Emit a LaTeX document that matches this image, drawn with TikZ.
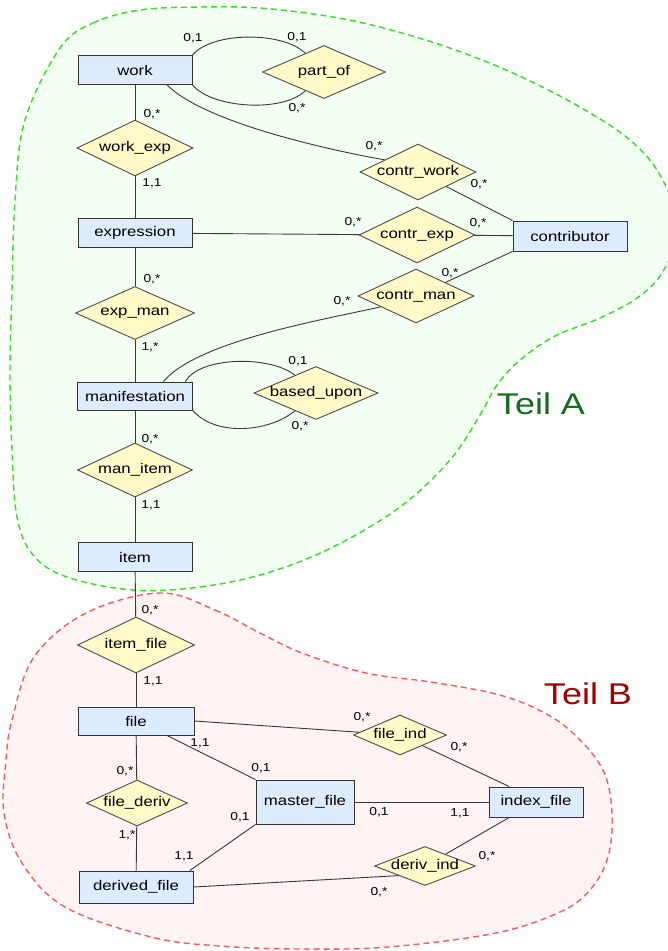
\documentclass[tikz,border=0pt]{standalone}
\usepackage{xcolor}
\usepackage{fontspec}
\setmainfont[FakeStretch=1.2]{Liberation Sans}
\usepackage{tikz}
\usetikzlibrary{shapes.geometric}

\definecolor{entblue}{RGB}{221,235,255}
\definecolor{relyellow}{RGB}{255,250,200}
\definecolor{blobgreen}{RGB}{51,224,34}
\definecolor{fillgreen}{RGB}{242,255,242}
\definecolor{blobred}{RGB}{255,90,90}
\definecolor{fillred}{RGB}{255,243,243}
\definecolor{teilgreen}{RGB}{16,110,28}
\definecolor{teilred}{RGB}{160,0,0}

\newcommand{\reltext}[1]{\makebox[0pt]{#1}}

\begin{document}
\begin{tikzpicture}[x=1pt,y=-1pt,
	ent/.style={shape=rectangle,draw=black!80,fill=entblue,line width=0.9pt,inner sep=0pt,minimum width=114pt,minimum height=29pt,font=\fontsize{14}{16}\selectfont},
	rel/.style={shape=diamond,draw=black!70,fill=relyellow,line width=0.9pt,inner sep=0pt,font=\fontsize{14}{16}\selectfont},
	card/.style={inner sep=0pt,font=\fontsize{11.5}{13}\selectfont},
	link/.style={draw=black!78,line width=0.9pt}]
			\useasboundingbox (0,0) rectangle (668,951);
			%% areas
			\path[draw=blobgreen,fill=fillgreen,line width=1.4pt,dash pattern=on 6pt off 4pt] plot[smooth cycle,tension=0.6] coordinates {(60,48) (93,23) (140,10) (200,7) (260,8) (327,16) (380,27) (447,47) (513,73) (580,107) (630,140) (660,175) (678,225) (665,268) (640,296) (600,318) (555,336) (520,360) (497,385) (480,415) (450,460) (400,507) (333,547) (267,573) (200,587) (133,590) (67,577) (33,555) (17,517) (12,450) (10,370) (12,290) (15,200) (25,120)};
			\path[draw=blobred,fill=fillred,line width=1.4pt,dash pattern=on 6pt off 4pt] plot[smooth cycle,tension=0.6] coordinates {(160,593) (215,610) (260,633) (302,653) (366,673) (431,682) (496,694) (539,710) (573,733) (603,770) (612,813) (608,857) (590,890) (560,912) (496,933) (388,947) (300,949) (220,946) (151,937) (65,907) (22,863) (4,813) (6,760) (12,720) (34,657) (86,613)};
			\node[font=\fontsize{30}{34}\selectfont,text=teilgreen] (ta) at (541,404) {Teil A};
			\node[font=\fontsize{30}{34}\selectfont,text=teilred] (tb) at (588,694) {Teil B};
			%% entities
			\node[ent] (work) at (135,70) {work};
			\node[ent] (expr) at (135,233) {expression};
			\node[ent,minimum height=30pt] (ctb) at (570,236) {contributor};
			\node[ent,minimum width=115pt,minimum height=28pt] (man) at (135,396) {manifestation};
			\node[ent] (item) at (135,557) {item};
			\node[ent,minimum width=116pt,minimum height=28pt] (file) at (136,721) {file};
			\node[ent,minimum height=32pt] (df) at (136,887) {derived\_file};
			\node[ent,minimum width=98pt,minimum height=44pt] (mf) at (305,802) {master\_file};
			\node[ent,minimum width=94pt,minimum height=30pt] (ix) at (536,802) {index\_file};
			%% relationships
			\node[rel,minimum width=123pt,minimum height=53pt] (po) at (324,72) {\reltext{part\_of}};
			\node[rel,minimum width=116pt,minimum height=56pt] (we) at (135,148) {\reltext{work\_exp}};
			\node[rel,minimum width=116pt,minimum height=56pt] (cw) at (418,172) {\reltext{contr\_work}};
			\node[rel,minimum width=116pt,minimum height=56pt] (ce) at (417,235) {\reltext{contr\_exp}};
			\node[rel,minimum width=116pt,minimum height=54pt] (cm) at (416,296) {\reltext{contr\_man}};
			\node[rel,minimum width=119pt,minimum height=53pt] (em) at (135,313) {\reltext{exp\_man}};
			\node[rel,minimum width=124pt,minimum height=53pt] (bu) at (316,393) {\reltext{based\_upon}};
			\node[rel,minimum width=115pt,minimum height=54pt] (mi) at (135,470) {\reltext{man\_item}};
			\node[rel,minimum width=117pt,minimum height=56pt] (if) at (136,645) {\reltext{item\_file}};
			\node[rel,minimum width=101pt,minimum height=46pt] (fd) at (137,803) {\reltext{file\_deriv}};
			\node[rel,minimum width=93pt,minimum height=40pt] (fi) at (400,735) {\reltext{file\_ind}};
			\node[rel,minimum width=101pt,minimum height=39pt] (di) at (425,866) {\reltext{deriv\_ind}};
			%% lines
			\draw[link] (work) -- (we);
			\draw[link] (we) -- (expr);
			\draw[link] (expr) -- (em);
			\draw[link] (em) -- (man);
			\draw[link] (man) -- (mi);
			\draw[link] (mi) -- (item);
			\draw[link] (item) -- (if);
			\draw[link] (if) -- (file);
			\draw[link] (work.north east) to[out=50,in=135,looseness=.7] (po);
			\draw[link] (work.south east) to[out=-50,in=-135,looseness=.7] (po);
			\draw[link] (work.-25) to[out=-45,in=170,looseness=.6] (cw.160);
			\draw[link] (cw) -- (ctb.north west);
			\draw[link] (expr) -- (ce);
			\draw[link] (ce) -- (ctb);
			\draw[link] (cm) -- (ctb.south west);
			\draw[link] (man.27) to[out=50,in=193,looseness=.6] (cm.197);
			\draw[link] (man.16) to[out=60,in=140,looseness=.7] (bu);
			\draw[link] (man.south east) to[out=-50,in=-140,looseness=.85] (bu);
			\draw[link] (file.east) -- (fi);
			\draw[link] (fi) -- (ix.150);
			\draw[link] (file.-25) -- (mf.north west);
			\draw[link] (file) -- (fd);
			\draw[link] (fd) -- (df);
			\draw[link] (df.17) -- (mf.south west);
			\draw[link] (mf) -- (ix);
			\draw[link] (ix.210) -- (di);
			\draw[link] (df.east) -- (di.200);
			%% cardinalities
			\node[card] (c1) at (193,38) {0,1};
			\node[card] (c2) at (297,37) {0,1};
			\node[card] (c3) at (297,108) {0,*};
			\node[card] (c4) at (152,114) {0,*};
			\node[card] (c5) at (152,183) {1,1};
			\node[card] (c6) at (374,146) {0,*};
			\node[card] (c7) at (479,184) {0,*};
			\node[card] (c8) at (353,222) {0,*};
			\node[card] (c9) at (478,223) {0,*};
			\node[card] (c10) at (450,273) {0,*};
			\node[card] (c11) at (342,301) {0,*};
			\node[card] (c12) at (152,279) {0,*};
			\node[card] (c13) at (150,347) {1,*};
			\node[card] (c14) at (298,361) {0,1};
			\node[card] (c15) at (300,426) {0,*};
			\node[card] (c16) at (150,439) {0,*};
			\node[card] (c17) at (151,505) {1,1};
			\node[card] (c18) at (150,610) {0,*};
			\node[card] (c19) at (153,681) {1,1};
			\node[card] (c20) at (362,717) {0,*};
			\node[card] (c21) at (200,743) {1,1};
			\node[card] (c22) at (459,747) {0,*};
			\node[card] (c23) at (261,768) {0,1};
			\node[card] (c24) at (125,771) {0,*};
			\node[card] (c25) at (240,817) {0,1};
			\node[card] (c26) at (379,812) {0,1};
			\node[card] (c27) at (460,813) {1,1};
			\node[card] (c28) at (127,835) {1,*};
			\node[card] (c29) at (184,856) {1,1};
			\node[card] (c30) at (487,856) {0,*};
			\node[card] (c31) at (379,892) {0,*};
		\end{tikzpicture}
\end{document}
